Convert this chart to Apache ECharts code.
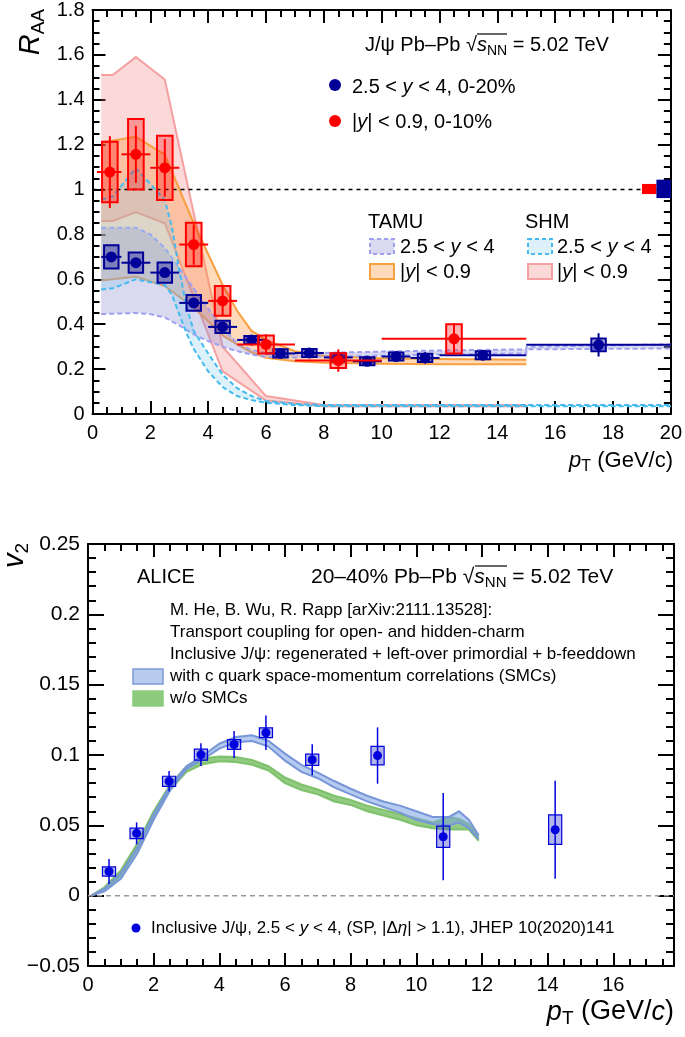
<!DOCTYPE html>
<html><head><meta charset="utf-8">
<script src="https://cdn.jsdelivr.net/npm/echarts@6/dist/echarts.min.js"></script>
<style>html,body{margin:0;padding:0;background:#fff}#c{width:685px;height:1037px}</style>
</head><body><div id="c"></div>
<script>
// ---------- Top panel: R_AA ----------
const raaXTicks = [0, 20, 2];          // min, max, interval
const raaYTicks = [0, 1.8, 0.2];
// forward rapidity 2.5<y<4, 0-20%
const fwdX    = [0.65, 1.5, 2.5, 3.5, 4.5, 5.5, 6.5, 7.5, 8.5, 9.5, 10.5, 11.5, 13.5, 17.5];
const fwdXLo  = [0.3, 1, 2, 3, 4, 5, 6, 7, 8, 9, 10, 11, 12, 15];
const fwdXHi  = [1, 2, 3, 4, 5, 6, 7, 8, 9, 10, 11, 12, 15, 20];
const fwdY    = [0.700, 0.674, 0.630, 0.495, 0.388, 0.330, 0.270, 0.272, 0.252, 0.235, 0.256, 0.250, 0.262, 0.308];
const fwdStat = [0.012, 0.012, 0.012, 0.010, 0.010, 0.008, 0.008, 0.008, 0.010, 0.012, 0.015, 0.025, 0.015, 0.052];
const fwdSys  = [0.052, 0.045, 0.045, 0.035, 0.027, 0.018, 0.018, 0.018, 0.018, 0.018, 0.018, 0.018, 0.018, 0.028];
// mid rapidity |y|<0.9, 0-10%
const midX    = [0.6, 1.5, 2.5, 3.5, 4.5, 6, 8.5, 12.5];
const midXLo  = [0.15, 1, 2, 3, 4, 5, 7, 10];
const midXHi  = [1, 2, 3, 4, 5, 7, 10, 15];
const midY    = [1.078, 1.157, 1.097, 0.755, 0.504, 0.310, 0.238, 0.335];
const midStat = [0.160, 0.127, 0.128, 0.090, 0.065, 0.045, 0.050, 0.070];
const midSys  = [0.135, 0.157, 0.143, 0.097, 0.066, 0.040, 0.033, 0.065];
// global uncertainties at R_AA = 1
const globX   = [19.25, 19.75];
const globLo  = [0.980, 0.962];
const globHi  = [1.025, 1.044];
const refLineX = [0, 20];
const refLineY = [1, 1];
// models
const tamuFwdX  = [0.3, 1.5, 2.0, 2.5, 3.0, 3.5, 4.0, 4.5, 5.0, 5.5, 6.0, 7.0, 8.0, 10.0, 12.0, 15.0, 15.01, 17.5, 20.0];
const tamuFwdHi = [0.83, 0.83, 0.80, 0.74, 0.65, 0.56, 0.47, 0.385, 0.315, 0.285, 0.272, 0.268, 0.272, 0.278, 0.283, 0.288, 0.300, 0.305, 0.310];
const tamuFwdLo = [0.445, 0.45, 0.445, 0.43, 0.395, 0.355, 0.325, 0.300, 0.280, 0.265, 0.255, 0.252, 0.255, 0.260, 0.265, 0.270, 0.288, 0.290, 0.292];
const tamuMidX  = [0.3, 1.5, 2.5, 3.5, 4.5, 5.0, 5.5, 6.0, 7.0, 8.0, 10.0, 12.0, 15.0];
const tamuMidHi = [1.21, 1.235, 1.155, 0.85, 0.575, 0.46, 0.37, 0.33, 0.28, 0.26, 0.248, 0.245, 0.242];
const tamuMidLo = [0.595, 0.612, 0.57, 0.475, 0.35, 0.31, 0.275, 0.25, 0.235, 0.228, 0.224, 0.222, 0.222];
const shmMidX   = [0.3, 0.7, 1.5, 2.5, 4.5, 6.0, 8.0, 15.0];
const shmMidHi  = [1.51, 1.51, 1.59, 1.49, 0.30, 0.08, 0.04, 0.04];
const shmMidLo  = [0.86, 0.86, 0.90, 0.85, 0.19, 0.06, 0.035, 0.035];
const shmFwdX   = [0.3, 0.7, 1.5, 2.5, 2.75, 3.0, 3.25, 3.5, 4.0, 4.5, 5.0, 5.5, 6.0, 7.0, 8.0, 20.0];
const shmFwdHi  = [0.955, 0.97, 1.095, 0.955, 0.83, 0.64, 0.48, 0.37, 0.27, 0.175, 0.115, 0.08, 0.058, 0.045, 0.04, 0.04];
const shmFwdLo  = [0.555, 0.56, 0.60, 0.575, 0.53, 0.445, 0.36, 0.29, 0.19, 0.12, 0.08, 0.062, 0.05, 0.04, 0.035, 0.035];

// ---------- Bottom panel: v2 ----------
const v2XTicks = [0, 17.85, 2];
const v2YTicks = [-0.05, 0.25, 0.05];
const v2X    = [0.64, 1.48, 2.47, 3.44, 4.45, 5.42, 6.83, 8.82, 10.82, 14.23];
const v2Y    = [0.0172, 0.0443, 0.0813, 0.1003, 0.1075, 0.1158, 0.0966, 0.0996, 0.0419, 0.0469];
const v2Stat = [0.0089, 0.0078, 0.0073, 0.0081, 0.0096, 0.0122, 0.0110, 0.0200, 0.0310, 0.0348];
const v2Sys  = [0.0033, 0.0037, 0.0036, 0.0039, 0.0035, 0.0035, 0.0040, 0.0066, 0.0075, 0.0105];
const zeroLineX = [0, 17.85];
const zeroLineY = [0, 0];
const modelX    = [0.1, 0.5, 1.0, 1.5, 2.0, 2.5, 3.0, 3.5, 4.0, 4.5, 5.0, 5.5, 6.0, 6.5, 7.0, 7.5, 8.0, 8.5, 9.0, 9.5, 10.0, 10.5, 11.0, 11.3, 11.6, 11.9];
const smcHi     = [0.0, 0.005, 0.016, 0.034, 0.058, 0.078, 0.092, 0.0995, 0.108, 0.1128, 0.1140, 0.1100, 0.1010, 0.0930, 0.0875, 0.0815, 0.0760, 0.0710, 0.0670, 0.0640, 0.0600, 0.0560, 0.0560, 0.0600, 0.0540, 0.0430];
const smcLo     = [0.0, 0.003, 0.012, 0.030, 0.054, 0.075, 0.090, 0.0970, 0.1045, 0.1090, 0.1100, 0.1060, 0.0960, 0.0880, 0.0835, 0.0770, 0.0720, 0.0670, 0.0630, 0.0590, 0.0540, 0.0510, 0.0500, 0.0520, 0.0480, 0.0400];
const noSmcHi   = [0.0, 0.006, 0.018, 0.037, 0.060, 0.079, 0.092, 0.0975, 0.0990, 0.0985, 0.0965, 0.0920, 0.0840, 0.0790, 0.0755, 0.0710, 0.0680, 0.0640, 0.0610, 0.0580, 0.0550, 0.0520, 0.0560, 0.0545, 0.0510, 0.0420];
const noSmcLo   = [0.0, 0.004, 0.014, 0.033, 0.056, 0.075, 0.088, 0.0935, 0.0955, 0.0950, 0.0930, 0.0890, 0.0800, 0.0750, 0.0720, 0.0670, 0.0645, 0.0600, 0.0570, 0.0540, 0.0500, 0.0480, 0.0470, 0.0470, 0.0470, 0.0390];

// ---------- helpers ----------
const FF = "'Liberation Sans', Arial, Helvetica, sans-serif";
function zip(a, b) { return a.map((v, i) => [v, b[i]]); }

function bandSeries(xs, hi, lo, fill, stroke, dash, axis, z) {
  const up = zip(xs, hi), dn = zip(xs, lo);
  return {
    type: 'custom', xAxisIndex: axis, yAxisIndex: axis, silent: true, z: z,
    data: [[xs[0], hi[0]]], encode: {x: 0, y: 1}, clip: true,
    renderItem: (params, api) => {
      const u = up.map(p => api.coord(p)), d = dn.map(p => api.coord(p));
      const ls = {stroke: stroke, lineWidth: 2, fill: null, lineDash: dash};
      return {type: 'group', children: [
        {type: 'polygon', shape: {points: u.concat(d.slice().reverse())}, style: {fill: fill, stroke: null}},
        {type: 'polyline', shape: {points: u}, style: ls},
        {type: 'polyline', shape: {points: d}, style: ls}
      ]};
    }
  };
}

function pointSeries(xs, xlo, xhi, ys, stat, sys, o, axis, z) {
  const rows = xs.map((x, i) => [x, ys[i], xlo ? xlo[i] : x, xhi ? xhi[i] : x, stat[i], sys[i]]);
  return {
    type: 'custom', xAxisIndex: axis, yAxisIndex: axis, silent: true, z: z,
    data: rows, encode: {x: 0, y: 1},
    renderItem: (params, api) => {
      const x = api.value(0), y = api.value(1), xl = api.value(2), xh = api.value(3),
            st = api.value(4), sy = api.value(5);
      const c = api.coord([x, y]);
      const b1 = api.coord([x - o.hw, y + sy]), b2 = api.coord([x + o.hw, y - sy]);
      const ch = [];
      ch.push({type: 'rect', shape: {x: b1[0], y: b1[1], width: b2[0] - b1[0], height: b2[1] - b1[1]},
               style: {fill: o.boxFill, stroke: o.color, lineWidth: o.boxLw}});
      if (o.hbar) {
        const l = api.coord([xl, y]), r = api.coord([xh, y]);
        ch.push({type: 'line', shape: {x1: l[0], y1: c[1], x2: r[0], y2: c[1]}, style: {stroke: o.color, lineWidth: o.lw}});
      }
      const t = api.coord([x, y + st]), bt = api.coord([x, y - st]);
      ch.push({type: 'line', shape: {x1: c[0], y1: t[1], x2: c[0], y2: bt[1]}, style: {stroke: o.color, lineWidth: o.lw}});
      ch.push({type: 'circle', shape: {cx: c[0], cy: c[1], r: o.r}, style: {fill: o.color}});
      return {type: 'group', children: ch};
    }
  };
}

function globSeries(xs, lo, hi, colors, axis, z) {
  return {
    type: 'custom', xAxisIndex: axis, yAxisIndex: axis, silent: true, z: z,
    data: xs.map((x, i) => [x, lo[i], hi[i]]), encode: {x: 0, y: 1},
    renderItem: (params, api) => {
      const x = api.value(0), l = api.value(1), h = api.value(2);
      const p1 = api.coord([x - 0.25, h]), p2 = api.coord([x + 0.25, l]);
      return {type: 'rect', shape: {x: p1[0], y: p1[1], width: p2[0] - p1[0], height: p2[1] - p1[1]},
              style: {fill: colors[params.dataIndex]}};
    }
  };
}

function xAxisDef(grid, t, pos, showLabel, tickLen, minorLen) {
  return {
    type: 'value', gridIndex: grid, position: pos, min: t[0], max: t[1], interval: t[2],
    axisLine: {show: true, onZero: false, lineStyle: {color: '#000', width: 2}},
    axisTick: {show: true, inside: true, length: tickLen, lineStyle: {color: '#000', width: 2}},
    minorTick: {show: true, splitNumber: 4, length: minorLen, lineStyle: {color: '#000', width: 2}},
    splitLine: {show: false}, minorSplitLine: {show: false},
    axisLabel: {show: showLabel, color: '#000', fontSize: 20, fontFamily: FF, margin: 9, showMaxLabel: t[1] % t[2] === 0,
                formatter: v => String(+v.toFixed(2))}
  };
}
function yAxisDef(grid, t, pos, showLabel, tickLen, minorLen, split, fs) {
  return {
    type: 'value', gridIndex: grid, position: pos, min: t[0], max: t[1], interval: t[2],
    axisLine: {show: true, onZero: false, lineStyle: {color: '#000', width: 2}},
    axisTick: {show: true, inside: true, length: tickLen, lineStyle: {color: '#000', width: 2}},
    minorTick: {show: true, splitNumber: split, length: minorLen, lineStyle: {color: '#000', width: 2}},
    splitLine: {show: false}, minorSplitLine: {show: false},
    axisLabel: {show: showLabel, color: '#000', fontSize: fs, fontFamily: FF, margin: 8,
                formatter: v => { const s = String(+Math.abs(v).toFixed(3)); return v < -1e-9 ? '\u2212' + s : s; }}
  };
}

function txt(x, y, text, rich, extra, rot) {
  return {type: 'text', x: x, y: y, z: 100, rotation: rot || 0,
    style: Object.assign({text: text, rich: rich, verticalAlign: 'middle', align: 'left', fill: '#000'}, extra || {})};
}
function rs(fs, sub) {
  return {
    n: {fontSize: fs, fontFamily: FF, lineHeight: fs + 6, fill: '#000'},
    i: {fontSize: fs, fontFamily: FF, fontStyle: 'italic', lineHeight: fs + 6, fill: '#000'},
    s: {fontSize: sub, fontFamily: FF, lineHeight: sub, verticalAlign: 'bottom', fill: '#000'}
  };
}
function hline(x1, x2, y) {
  return {type: 'line', shape: {x1: x1, y1: y, x2: x2, y2: y}, style: {stroke: '#000', lineWidth: 1.2}, z: 100};
}

const chart = echarts.init(document.getElementById('c'), null, {renderer: 'canvas'});
const r20 = rs(20, 14), r21 = rs(21, 15), r17 = rs(17, 12);
const bigRich = {i: {fontSize: 29, fontFamily: FF, fontStyle: 'italic', lineHeight: 34, fill: '#000'},
                 s: {fontSize: 19, fontFamily: FF, lineHeight: 19, verticalAlign: 'bottom', fill: '#000'}};

const option = {
  animation: false,
  backgroundColor: '#fff',
  grid: [
    {left: 92.5, top: 9, width: 580, height: 405},
    {left: 88, top: 544, width: 586, height: 422}
  ],
  xAxis: [
    xAxisDef(0, raaXTicks, 'bottom', true, 13, 7),
    xAxisDef(0, raaXTicks, 'top', false, 13, 7),
    xAxisDef(1, v2XTicks, 'bottom', true, 13, 7),
    xAxisDef(1, v2XTicks, 'top', false, 13, 7)
  ],
  yAxis: [
    yAxisDef(0, raaYTicks, 'left', true, 13, 7, 4, 20),
    yAxisDef(0, raaYTicks, 'right', false, 13, 7, 4, 20),
    yAxisDef(1, v2YTicks, 'left', true, 16, 8, 5, 21),
    yAxisDef(1, v2YTicks, 'right', false, 16, 8, 5, 21)
  ],
  series: [
    bandSeries(shmMidX, shmMidHi, shmMidLo, 'rgba(240,110,110,0.26)', '#f5a0a0', null, 0, 2),
    bandSeries(tamuMidX, tamuMidHi, tamuMidLo, 'rgba(255,150,60,0.35)', '#f7a040', null, 0, 3),
    bandSeries(tamuFwdX, tamuFwdHi, tamuFwdLo, 'rgba(140,140,210,0.33)', '#a0a0f0', [5, 3], 0, 4),
    bandSeries(shmFwdX, shmFwdHi, shmFwdLo, 'rgba(120,200,240,0.25)', '#44bbee', [5, 3], 0, 5),
    {type: 'line', xAxisIndex: 0, yAxisIndex: 0, data: zip(refLineX, refLineY), symbol: 'none', silent: true, z: 6,
     lineStyle: {color: '#000', width: 1.5, type: [4, 4]}},
    globSeries(globX, globLo, globHi, ['#ff0000', '#000099'], 0, 7),
    pointSeries(fwdX, fwdXLo, fwdXHi, fwdY, fwdStat, fwdSys,
      {hw: 0.25, color: '#000099', boxFill: 'rgba(0,0,153,0.35)', boxLw: 2, lw: 2, r: 5.5, hbar: true}, 0, 8),
    pointSeries(midX, midXLo, midXHi, midY, midStat, midSys,
      {hw: 0.27, color: '#ff0000', boxFill: 'rgba(255,0,0,0.3)', boxLw: 2, lw: 2, r: 5.5, hbar: true}, 0, 9),

    bandSeries(modelX, noSmcHi, noSmcLo, 'rgba(120,190,100,0.8)', 'rgba(120,190,100,0.9)', null, 2, 2),
    bandSeries(modelX, smcHi, smcLo, 'rgba(120,160,225,0.55)', '#7896d8', null, 2, 3),
    {type: 'line', xAxisIndex: 2, yAxisIndex: 2, data: zip(zeroLineX, zeroLineY), symbol: 'none', silent: true, z: 4,
     lineStyle: {color: '#999', width: 1.5, type: [5, 4]}},
    pointSeries(v2X, null, null, v2Y, v2Stat, v2Sys,
      {hw: 0.2, color: '#0000dd', boxFill: 'rgba(60,70,200,0.4)', boxLw: 1.2, lw: 1.5, r: 4.5, hbar: false}, 2, 8)
  ],
  graphic: [
    // top panel axis titles
    txt(31, 9, '{i|R}{s|AA}', bigRich, {align: 'right'}, Math.PI / 2),
    txt(673, 461, '{i|p}{s|T}{n| (GeV/c)}', rs(22, 16), {align: 'right'}),
    // top legend
    txt(365, 45, '{n|J/ψ Pb–Pb √}{i|s}{s|NN}{n| = 5.02 TeV}', r20),
    hline(477, 507, 34),
    {type: 'circle', shape: {cx: 335, cy: 85, r: 6}, style: {fill: '#000099'}, z: 100},
    txt(352, 87, '{n|2.5 < }{i|y}{n| < 4, 0-20%}', r20),
    {type: 'circle', shape: {cx: 335, cy: 121, r: 6}, style: {fill: '#ff0000'}, z: 100},
    txt(352, 122, '{n||}{i|y}{n|| < 0.9, 0-10%}', r20),
    txt(368, 222, '{n|TAMU}', r20),
    txt(525, 222, '{n|SHM}', r20),
    {type: 'rect', shape: {x: 370, y: 239, width: 24, height: 15}, style: {fill: 'rgba(140,140,210,0.33)', stroke: '#a0a0f0', lineWidth: 2, lineDash: [4, 3]}, z: 100},
    {type: 'rect', shape: {x: 370, y: 264, width: 24, height: 15}, style: {fill: 'rgba(255,150,60,0.35)', stroke: '#f7a040', lineWidth: 2}, z: 100},
    {type: 'rect', shape: {x: 528, y: 239, width: 24, height: 15}, style: {fill: 'rgba(120,200,240,0.25)', stroke: '#44bbee', lineWidth: 2, lineDash: [4, 3]}, z: 100},
    {type: 'rect', shape: {x: 528, y: 264, width: 24, height: 15}, style: {fill: 'rgba(240,110,110,0.26)', stroke: '#f5a0a0', lineWidth: 2}, z: 100},
    txt(400, 247, '{n|2.5 < }{i|y}{n| < 4}', r20),
    txt(400, 272, '{n||}{i|y}{n|| < 0.9}', r20),
    txt(557, 247, '{n|2.5 < }{i|y}{n| < 4}', r20),
    txt(557, 272, '{n||}{i|y}{n|| < 0.9}', r20),
    // bottom panel
    txt(15, 543, '{i|v}{s|2}', bigRich, {align: 'right'}, Math.PI / 2),
    txt(674, 1012, '{i|p}{s|T}{n| (GeV/}{i|c}{n|)}', rs(27, 19), {align: 'right'}),
    txt(137, 577, '{n|ALICE}', rs(20, 14)),
    txt(311, 577, '{n|20–40% Pb–Pb √}{i|s}{s|NN}{n| = 5.02 TeV}', r21),
    hline(475, 507, 566),
    txt(170, 610, '{n|M. He, B. Wu, R. Rapp [arXiv:2111.13528]:}', r17),
    txt(170, 632, '{n|Transport coupling for open- and hidden-charm}', r17),
    txt(170, 654, '{n|Inclusive J/ψ: regenerated + left-over primordial + b-feeddown}', r17),
    txt(170, 676, '{n|with c quark space-momentum correlations (SMCs)}', r17),
    txt(170, 698, '{n|w/o SMCs}', r17),
    {type: 'rect', shape: {x: 133, y: 669, width: 30, height: 15}, style: {fill: '#b6cbed', stroke: '#7d9ad8', lineWidth: 1.5}, z: 100},
    {type: 'rect', shape: {x: 133, y: 691, width: 30, height: 15}, style: {fill: '#8ccb7e', stroke: '#8ccb7e', lineWidth: 1.5}, z: 100},
    {type: 'circle', shape: {cx: 136, cy: 928, r: 4.5}, style: {fill: '#0000dd'}, z: 100},
    txt(151, 928, '{n|Inclusive J/ψ, 2.5 < }{i|y}{n| < 4, (SP, |Δ}{i|η}{n|| > 1.1), JHEP 10(2020)141}', r17)
  ]
};
chart.setOption(option);
</script></body></html>
